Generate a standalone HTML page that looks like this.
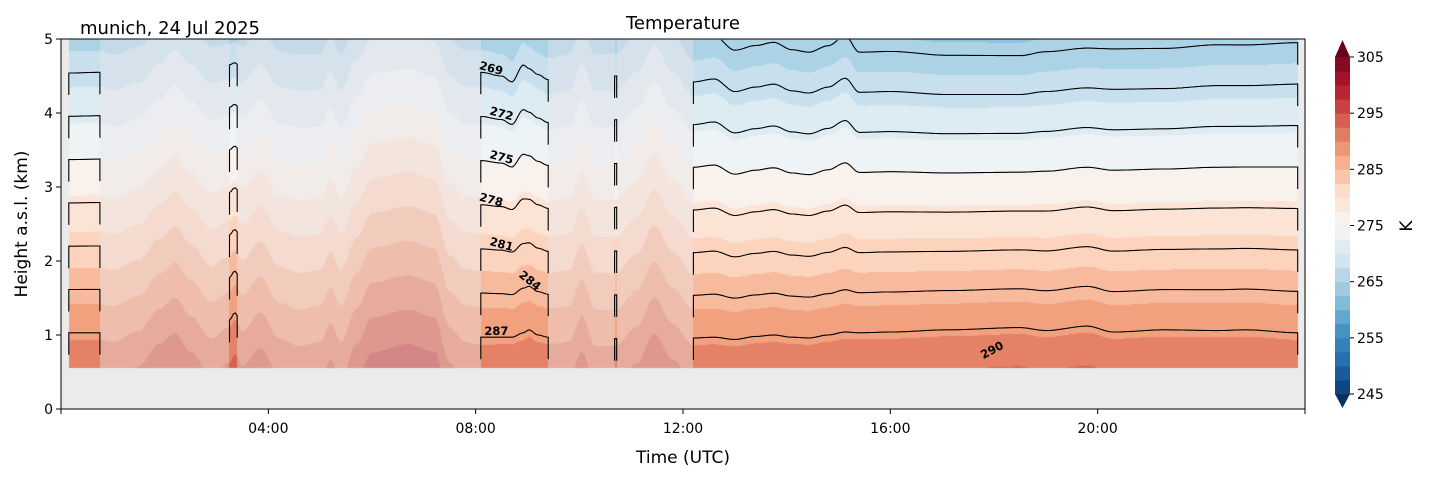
<!DOCTYPE html>
<html><head><meta charset="utf-8">
<style>
body{margin:0;background:#fff;width:1429px;height:478px;overflow:hidden;font-family:"DejaVu Sans","Liberation Sans",sans-serif;}
#wrap{position:relative;width:1429px;height:478px;}
canvas{position:absolute;left:61px;top:39px;}
svg{position:absolute;left:0;top:0;font-family:"DejaVu Sans","Liberation Sans",sans-serif;}
</style></head>
<body>
<div id="wrap">
<canvas id="cv" width="1244" height="370"></canvas>
<svg id="sv" width="1429" height="478"></svg>
</div>
<script>
// ---- data ----
const times = [0.15,0.75,1.0,1.5,1.9,2.2,2.5,2.9,3.25,3.35,3.5,3.85,4.2,4.6,5.0,5.2,5.4,5.7,6.0,6.7,7.2,7.5,7.8,8.1,8.5,8.7,8.92,9.03,9.2,9.4,9.8,10.05,10.3,10.7,11.1,11.45,11.8,12.2,12.6,13.0,13.4,13.75,14.1,14.43,14.8,15.13,15.4,16.0,17.1,18.5,19.0,19.8,20.3,21.3,22.3,22.86,23.86];
// height (km) of the 287 K isotherm
const hLow = [1.03,1.03,1.0,1.15,1.45,1.6,1.35,1.05,1.2,1.3,1.15,1.4,1.05,0.95,1.0,1.25,1.0,1.45,1.8,1.9,1.8,1.2,1.0,0.97,0.97,0.97,1.03,1.07,1.0,0.97,1.0,1.35,0.95,0.95,1.2,1.6,1.25,0.96,0.97,0.94,0.98,1.0,0.97,0.96,1.0,1.04,1.03,1.04,1.07,1.1,1.06,1.12,1.04,1.07,1.06,1.07,1.03];
// height (km) of the 269 K isotherm
const hHigh = [4.54,4.55,4.5,4.6,4.85,5.05,4.85,4.6,4.65,4.68,4.6,4.85,4.55,4.5,4.5,4.75,4.5,4.9,5.2,5.25,5.15,4.7,4.55,4.55,4.5,4.42,4.65,4.6,4.52,4.45,4.5,4.85,4.5,4.5,4.75,5.1,4.75,4.42,4.46,4.29,4.35,4.39,4.3,4.27,4.35,4.47,4.28,4.29,4.25,4.25,4.29,4.34,4.32,4.33,4.37,4.37,4.39];
const solidStart = [0.15,3.25,8.1,10.68,12.2];
const solidEnd   = [0.75,3.4,9.4,10.72,23.86];
const fadedStart = [0.75,3.4,9.4];
const fadedEnd   = [3.25,8.1,12.2];
const lineLevels = [266,269,272,275,278,281,284,287];
const cbTicks = [245,255,265,275,285,295,305];
const xTickHours = [4,8,12,16,20];
const xTickLabels = ["04:00","08:00","12:00","16:00","20:00"];
const yTicks = [0,1,2,3,4,5];
const labelLevels = [269,272,275,278,281,284,287];
const labelTimes  = [8.3,8.5,8.5,8.3,8.5,9.05,8.4];

// ---- scales ----
const X0=61,X1=1305,Y0=409,Y1=39;
const xs=t=>X0+(t/24)*(X1-X0);
const ys=z=>Y0-(z/5)*(Y0-Y1);
const ZMIN=0.55;
const NS='http://www.w3.org/2000/svg';
const sv=document.getElementById('sv');
function mk(tag,attrs){const e=document.createElementNS(NS,tag);for(const k in attrs)e.setAttribute(k,attrs[k]);return e;}

function interp(arr,t){
  if(t<=times[0])return arr[0];
  for(let i=1;i<times.length;i++){if(t<=times[i]){let f=(t-times[i-1])/(times[i]-times[i-1]);f=f*f*(3-2*f);return arr[i-1]+f*(arr[i]-arr[i-1]);}}
  return arr[arr.length-1];
}
function segType(t){
  for(let i=0;i<solidStart.length;i++)if(t>=solidStart[i]&&t<=solidEnd[i])return 1;
  for(let i=0;i<fadedStart.length;i++)if(t>=fadedStart[i]&&t<=fadedEnd[i])return 2;
  return 0;
}
// RdBu_r
const cmap=[[5,48,97],[33,102,172],[67,147,195],[146,197,222],[209,229,240],[247,247,247],[253,219,199],[244,165,130],[214,96,77],[178,24,43],[103,0,31]];
function cm(p){p=Math.max(0,Math.min(1,p));const s=p*10,i=Math.min(9,Math.floor(s)),f=s-i;return cmap[i].map((c,k)=>Math.round(c+f*(cmap[i+1][k]-c)));}
function bandPos(b){const center=245+2.5*(b+0.5);return 0.5+(center-275)/60*1.1;}
function bandColor(T){
  if(T<245)return cm(0);if(T>=305)return cm(1);
  const b=Math.floor((T-245)/2.5);return cm(bandPos(b));
}

// ---- field ----
const cv=document.getElementById('cv'),ctx=cv.getContext('2d');
const W=cv.width,H=cv.height,img=ctx.createImageData(W,H);
for(let px=0;px<W;px++){
  const t=(px+0.5)/W*24, st=segType(t);
  const hl=interp(hLow,t),hh=interp(hHigh,t),G=18/(hh-hl);
  for(let py=0;py<H;py++){
    const z=(H-py-0.5)/H*5;
    let c=[235,235,235];
    if(st&&z>=ZMIN){
      c=bandColor(287-G*(z-hl));
      if(st===2)c=c.map((v,k)=>Math.round(v*0.58+[232,228,232][k]*0.42));
    }
    const o=(py*W+px)*4;img.data[o]=c[0];img.data[o+1]=c[1];img.data[o+2]=c[2];img.data[o+3]=255;
  }
}
ctx.putImageData(img,0,0);

// ---- contour lines ----
const gl=mk('g',{});sv.appendChild(gl);
for(let s=0;s<solidStart.length;s++){
  for(const L of lineLevels){
    let pts=[],hs=false;
    const a=solidStart[s],b=solidEnd[s],n=Math.max(2,Math.round((xs(b)-xs(a))/2));
    const flush=(he)=>{if(pts.length>2){
      const first=pts[0],last=pts[pts.length-1];
      let d=hs?'M'+first[0].toFixed(1)+','+(first[1]+22).toFixed(1)+' L':'M';
      d+=pts.map(p=>p[0].toFixed(1)+','+p[1].toFixed(1)).join(' L');
      if(he)d+=' L'+last[0].toFixed(1)+','+(last[1]+22).toFixed(1);
      const p=mk('path',{d:d,fill:'none',stroke:'#000','stroke-width':1.1});
      
      
      gl.appendChild(p);}pts=[];hs=false;};
    for(let k=0;k<=n;k++){
      const t=a+(b-a)*k/n,hl=interp(hLow,t),hh=interp(hHigh,t);
      const z=hl+(287-L)*(hh-hl)/18;
      if(z>=ZMIN+0.03&&z<=5.0){if(k===0)hs=true;pts.push([xs(t),ys(z)]);}else flush(false);
    }
    flush(true);
  }
}
// contour labels
for(let i=0;i<labelLevels.length;i++){
  const t=labelTimes[i],hl=interp(hLow,t),hh=interp(hHigh,t);
  const z=hl+(287-labelLevels[i])*(hh-hl)/18;
  const rot=labelLevels[i]===284?38:(labelLevels[i]===287?0:15);
  const tx=mk('text',{x:xs(t),y:ys(z)-2,'font-size':11.5,'font-weight':'bold','text-anchor':'middle',transform:`rotate(${rot} ${xs(t)} ${ys(z)-6})`});
  tx.textContent=labelLevels[i];
  
  
  sv.appendChild(tx);
}
{const tx=mk('text',{x:992,y:354,'font-size':11.5,'font-weight':'bold','text-anchor':'middle',transform:'rotate(-28 992 350)'});tx.textContent='290';
sv.appendChild(tx);}

// ---- axes ----
const frame=mk('rect',{x:X0,y:Y1,width:X1-X0,height:Y0-Y1,fill:'none',stroke:'#000','stroke-width':1});
sv.appendChild(frame);
xTickHours.forEach((h,i)=>{
  const x=xs(h);
  const l=mk('line',{x1:x,x2:x,y1:Y0,y2:Y0+5,stroke:'#000'});sv.appendChild(l);
  const tx=mk('text',{x:x,y:Y0+24,'font-size':14,'text-anchor':'middle'});tx.textContent=xTickLabels[i];
  sv.appendChild(tx);
});
[0,24].forEach(h=>{const l=mk('line',{x1:xs(h),x2:xs(h),y1:Y0,y2:Y0+5,stroke:'#000'});sv.appendChild(l);});
yTicks.forEach(v=>{
  const y=ys(v);
  const l=mk('line',{x1:X0-5,x2:X0,y1:y,y2:y,stroke:'#000'});sv.appendChild(l);
  const tx=mk('text',{x:X0-8,y:y+5,'font-size':14,'text-anchor':'end'});tx.textContent=v;
  sv.appendChild(tx);
});
function txt(s,attrs,name){const t=mk('text',attrs);t.textContent=s;sv.appendChild(t);}
txt('Time (UTC)',{x:683,y:463,'font-size':17,'text-anchor':'middle'},'x-axis-title');
txt('Height a.s.l. (km)',{x:27,y:224,'font-size':17,'text-anchor':'middle',transform:'rotate(-90 27 224)'},'y-axis-title');
txt('Temperature',{x:683,y:29,'font-size':18,'text-anchor':'middle'},'chart-title');
txt('munich, 24 Jul 2025',{x:80,y:34,'font-size':18},'location-date-label');

// ---- colorbar ----
const CX=1335,CW=15,CT=57,CB=394,nb=24,bh=(CB-CT)/nb;
const cb=mk('g',{});sv.appendChild(cb);
for(let i=0;i<nb;i++){
  const c=cm((i+1)/25);
  const r=mk('rect',{x:CX,y:CB-(i+1)*bh,width:CW,height:bh+0.5,fill:`rgb(${c})`});
  cb.appendChild(r);
}
const c1=cm(1),c0=cm(0);
const up=mk('polygon',{points:`${CX},${CT} ${CX+CW},${CT} ${CX+CW/2},${40}`,fill:`rgb(${c1})`});cb.appendChild(up);
const dn=mk('polygon',{points:`${CX},${CB} ${CX+CW},${CB} ${CX+CW/2},${408}`,fill:`rgb(${c0})`});cb.appendChild(dn);
const cbs=v=>CB-(v-245)/60*(CB-CT);
cbTicks.forEach(v=>{
  const y=cbs(v);
  const l=mk('line',{x1:CX+CW,x2:CX+CW+4,y1:y,y2:y,stroke:'#000'});cb.appendChild(l);
  const tx=mk('text',{x:CX+CW+7,y:y+5,'font-size':14});tx.textContent=v;cb.appendChild(tx);
});
txt('K',{x:1412,y:226,'font-size':17,'text-anchor':'middle',transform:'rotate(-90 1412 226)'},'colorbar-unit-label');
</script>
</body></html>
